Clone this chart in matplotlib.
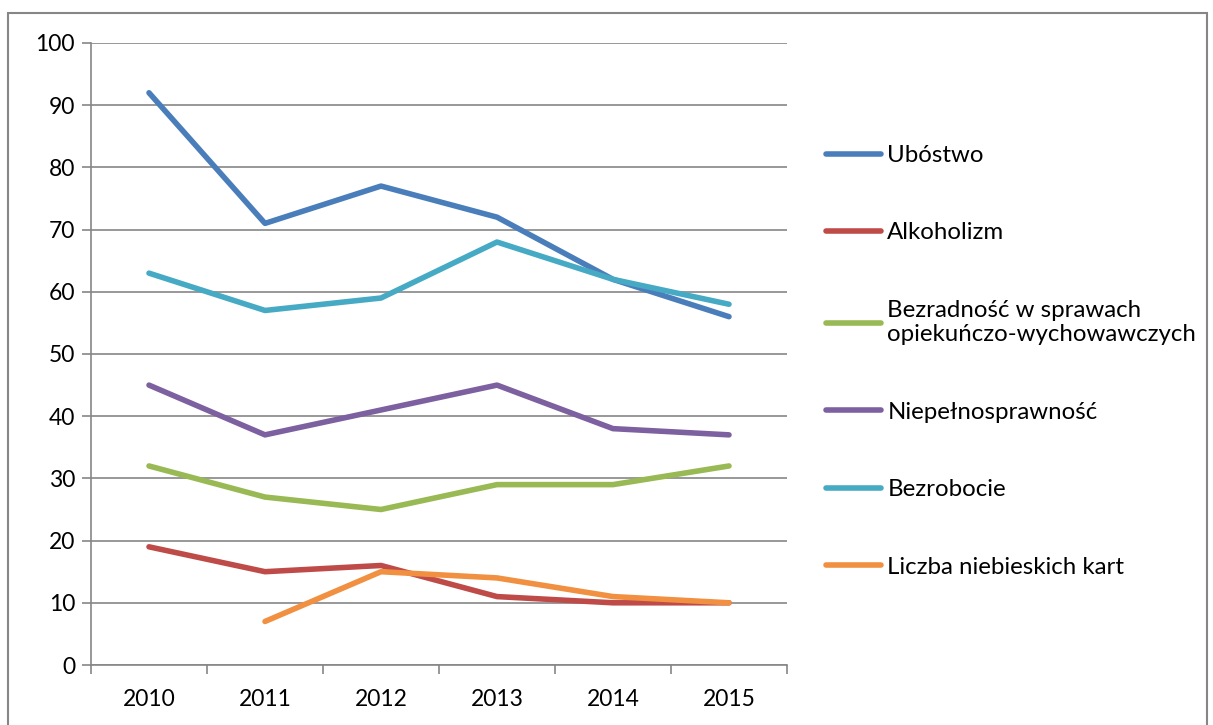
import numpy as np
import matplotlib
matplotlib.use('Agg')
import matplotlib.pyplot as plt
from matplotlib.patches import Rectangle
from matplotlib.ticker import FixedLocator, NullFormatter

plt.rcParams['font.family'] = ['Lato', 'DejaVu Sans']

# dane
lata = ['2010', '2011', '2012', '2013', '2014', '2015']
ubostwo = [92, 71, 77, 72, 62, 56]
alkoholizm = [19, 15, 16, 11, 10, 10]
bezradnosc = [32, 27, 25, 29, 29, 32]
niepelnosprawnosc = [45, 37, 41, 45, 38, 37]
bezrobocie = [63, 57, 59, 68, 62, 58]
niebieskie_karty = [np.nan, 7, 15, 14, 11, 10]

serie = [
    ('Ubóstwo', ubostwo, '#4A7EBB'),
    ('Alkoholizm', alkoholizm, '#BE4B48'),
    ('Bezradność w sprawach\nopiekuńczo-wychowawczych', bezradnosc, '#98B954'),
    ('Niepełnosprawność', niepelnosprawnosc, '#7D60A0'),
    ('Bezrobocie', bezrobocie, '#46AAC5'),
    ('Liczba niebieskich kart', niebieskie_karty, '#F09040'),
]

fig = plt.figure(figsize=(12.13, 7.25), dpi=100)
ax = fig.add_axes([91 / 1213, 1 - 665 / 725, (787 - 91) / 1213, (665 - 43) / 725])

x = np.arange(len(lata))
for nazwa, wartosci, kolor in serie:
    ax.plot(x, wartosci, color=kolor, lw=4, label=nazwa, solid_capstyle='round',
            solid_joinstyle='round')

szary = '#868686'
ax.set_xlim(-0.5, len(lata) - 0.5)
ax.set_ylim(0, 100)
ax.set_yticks(np.arange(0, 101, 10))
ax.yaxis.grid(True, color=szary, lw=1.2)
ax.set_axisbelow(True)

ax.set_xticks(x)
ax.set_xticklabels(lata)
ax.xaxis.set_minor_locator(FixedLocator(np.arange(-0.5, len(lata), 1.0)))
ax.xaxis.set_minor_formatter(NullFormatter())
ax.tick_params(axis='x', which='major', length=0, pad=17, labelsize=16.5)
ax.tick_params(axis='x', which='minor', length=6.5, color=szary, width=1.2)
ax.tick_params(axis='y', length=6.5, color=szary, width=1.2, pad=5, labelsize=16.5)

for s in ['top', 'right']:
    ax.spines[s].set_visible(False)
for s in ['left', 'bottom']:
    ax.spines[s].set_color(szary)
    ax.spines[s].set_linewidth(1.2)

leg = ax.legend(loc='upper left', bbox_to_anchor=(826 / 1213, 1 - 145 / 725),
                bbox_transform=fig.transFigure, frameon=False, fontsize=17.3,
                handlelength=2.3, handletextpad=0.25, labelspacing=2.35,
                borderaxespad=0, borderpad=0)

# ramka wykresu
fig.patches.append(Rectangle((8 / 1213, -0.02), 1199 / 1213, (725 - 13) / 725 + 0.02,
                             transform=fig.transFigure, fill=False,
                             edgecolor=szary, lw=1.5))

fig.savefig('out.png', dpi=100)
